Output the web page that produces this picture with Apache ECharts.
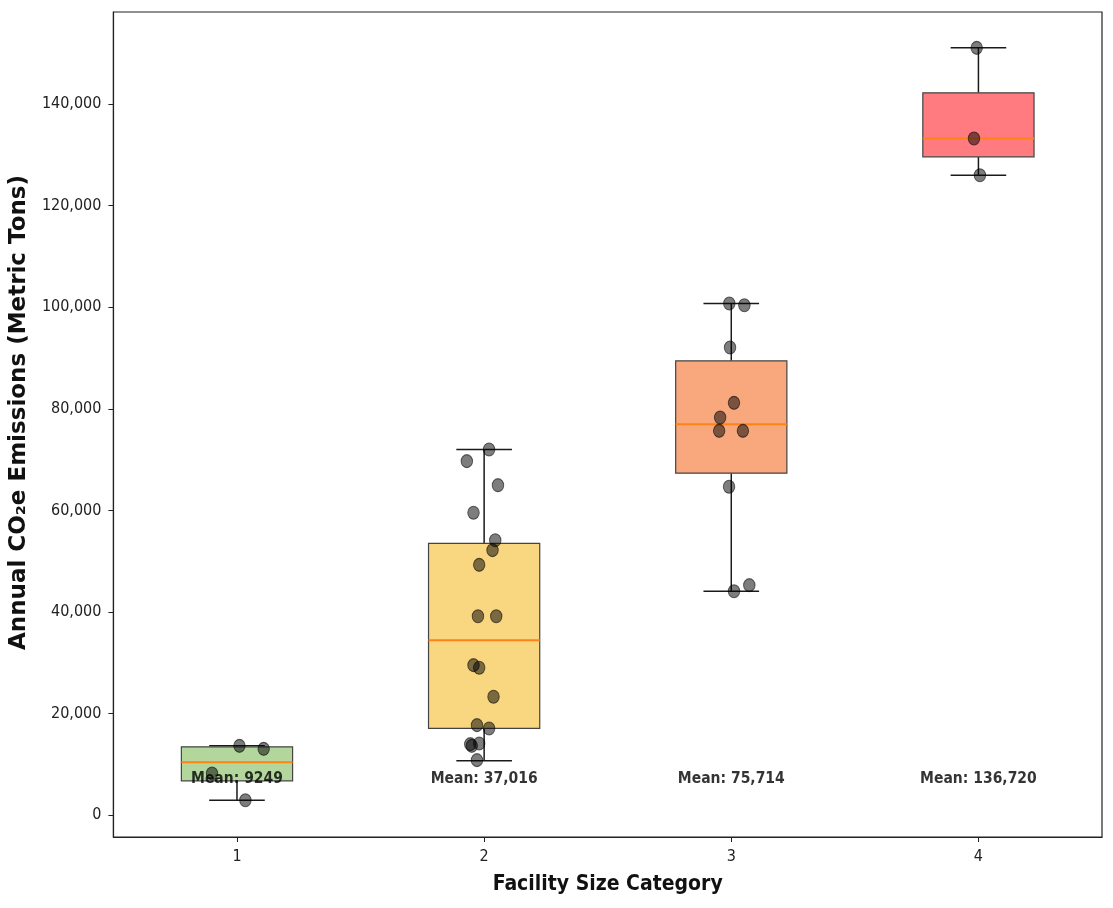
<!DOCTYPE html>
<html>
<head>
<meta charset="utf-8">
<script src="https://cdn.jsdelivr.net/npm/echarts@6/dist/echarts.min.js"></script>
<style>
  html, body { margin: 0; padding: 0; background: #fff; }
  #chart { width: 1113px; height: 908px; }
</style>
</head>
<body>
<div id="chart"></div>
<script>
// facility size categories
const categories = ['1', '2', '3', '4'];

// box statistics
const whiskerLow  = [2950, 10690, 44090, 125980];
const q1          = [6750, 17070, 67320, 129590];
const medians     = [10430, 34450, 76970, 133210];
const q3          = [13450, 53490, 89430, 142190];
const whiskerHigh = [13640, 71990, 100730, 151040];

// individual facilities (values) and their horizontal jitter
const pointValues = [
    [13640, 13050, 8210, 2950],
    [71990, 69690, 64960, 59510, 54130, 52170, 49270, 39170, 39170, 29530,
     29000, 23290, 17720, 17070, 13980, 13640, 14110, 10830],
    [100730, 100390, 92070, 81160, 78290, 75650, 75650, 64630, 44090, 45280],
    [151040, 133210, 125980]
];
const pointJitter = [
    [0.010, 0.108, -0.101, 0.034],
    [0.020, -0.070, 0.056, -0.043, 0.045, 0.034, -0.020, -0.025, 0.049, -0.043,
     -0.020, 0.038, -0.029, 0.020, -0.056, -0.050, -0.020, -0.029],
    [-0.008, 0.053, -0.005, 0.011, -0.045, -0.049, 0.047, -0.009, 0.011, 0.073],
    [-0.007, -0.018, 0.006]
];

const meanLabels = ['Mean: 9249', 'Mean: 37,016', 'Mean: 75,714', 'Mean: 136,720'];
const meanLabelY = 7100;

const yTicks = [0, 20000, 40000, 60000, 80000, 100000, 120000, 140000];
const xTicks = [1, 2, 3, 4];

const boxColors = ['#b3d69c', '#f9d680', '#f9a87e', '#ff7b80'];

const tickFont = "'DejaVu Sans Condensed', 'DejaVu Sans', sans-serif";

const boxData = categories.map((c, i) => [i + 1, whiskerLow[i], q1[i], medians[i], q3[i], whiskerHigh[i]]);
const scatterData = [];
pointValues.forEach((vals, i) => {
    vals.forEach((v, j) => scatterData.push([i + 1 + pointJitter[i][j], v]));
});
const meanData = categories.map((c, i) => [i + 1, meanLabelY, meanLabels[i]]);

const chart = echarts.init(document.getElementById('chart'));

function renderBox(params, api) {
    const x = api.value(0);
    const low = api.coord([x, api.value(1)]);
    const b1 = api.coord([x, api.value(2)]);
    const med = api.coord([x, api.value(3)]);
    const b3 = api.coord([x, api.value(4)]);
    const high = api.coord([x, api.value(5)]);
    const w = api.size([0.45, 0])[0];
    const cap = w / 2;
    const cx = low[0];
    const line = { stroke: '#1a1a1a', lineWidth: 1.5 };
    return {
        type: 'group',
        children: [
            { type: 'line', shape: { x1: cx, y1: b3[1], x2: cx, y2: high[1] }, style: line },
            { type: 'line', shape: { x1: cx, y1: b1[1], x2: cx, y2: low[1] }, style: line },
            { type: 'line', shape: { x1: cx - cap / 2, y1: high[1], x2: cx + cap / 2, y2: high[1] }, style: line },
            { type: 'line', shape: { x1: cx - cap / 2, y1: low[1], x2: cx + cap / 2, y2: low[1] }, style: line },
            {
                type: 'rect',
                shape: { x: cx - w / 2, y: b3[1], width: w, height: b1[1] - b3[1] },
                style: { fill: boxColors[params.dataIndex], stroke: '#444', lineWidth: 1.2 }
            },
            {
                type: 'line',
                shape: { x1: cx - w / 2, y1: med[1], x2: cx + w / 2, y2: med[1] },
                style: { stroke: '#ff8214', lineWidth: 2 }
            }
        ]
    };
}

const option = {
    animation: false,
    backgroundColor: '#fff',
    grid: {
        left: 113, right: 11, top: 12, bottom: 71,
        show: true, borderColor: '#222', borderWidth: 1.2, backgroundColor: 'transparent'
    },
    xAxis: {
        type: 'value',
        min: 0.5,
        max: 4.5,
        name: 'Facility Size Category',
        nameLocation: 'middle',
        nameGap: 37,
        nameTextStyle: {
            fontFamily: tickFont, fontWeight: 'bold', fontSize: 21, color: '#111'
        },
        axisLine: { show: true, onZero: false, lineStyle: { color: '#222', width: 1.2 } },
        axisTick: { show: true, length: 5, lineStyle: { color: '#222' }, customValues: xTicks },
        axisLabel: {
            margin: 12, fontFamily: tickFont, fontSize: 16, color: '#222',
            customValues: xTicks,
            formatter: v => categories[v - 1]
        },
        splitLine: { show: false }
    },
    yAxis: {
        type: 'value',
        min: -4300,
        max: 158100,
        name: 'Annual CO\u2082e Emissions (Metric Tons)',
        nameLocation: 'middle',
        nameGap: 82,
        nameTextStyle: {
            fontFamily: "'DejaVu Sans', sans-serif", fontWeight: 'bold', fontSize: 23, color: '#111',
            padding: [0, 0, 0, 24]
        },
        axisLine: { show: true, onZero: false, lineStyle: { color: '#222', width: 1.2 } },
        axisTick: { show: true, length: 5, lineStyle: { color: '#222' }, customValues: yTicks },
        axisLabel: {
            margin: 12, fontFamily: tickFont, fontSize: 16, color: '#222',
            customValues: yTicks,
            formatter: v => v.toLocaleString('en-US')
        },
        splitLine: { show: false }
    },
    series: [
        {
            type: 'custom',
            renderItem: renderBox,
            encode: { x: 0, y: [1, 2, 3, 4, 5] },
            data: boxData,
            z: 2
        },
        {
            type: 'scatter',
            data: scatterData,
            symbol: 'circle',
            symbolSize: [11.5, 13],
            itemStyle: {
                color: 'rgba(0,0,0,0.64)',
                borderColor: 'rgba(0,0,0,0.7)',
                borderWidth: 1
            },
            z: 3
        },
        {
            type: 'scatter',
            data: meanData,
            symbolSize: 0,
            silent: true,
            label: {
                show: true,
                position: 'inside',
                formatter: p => p.data[2],
                fontFamily: tickFont,
                fontWeight: 'bold',
                fontSize: 15.5,
                color: '#000'
            },
            z: 4
        }
    ]
};

chart.setOption(option);
</script>
</body>
</html>
